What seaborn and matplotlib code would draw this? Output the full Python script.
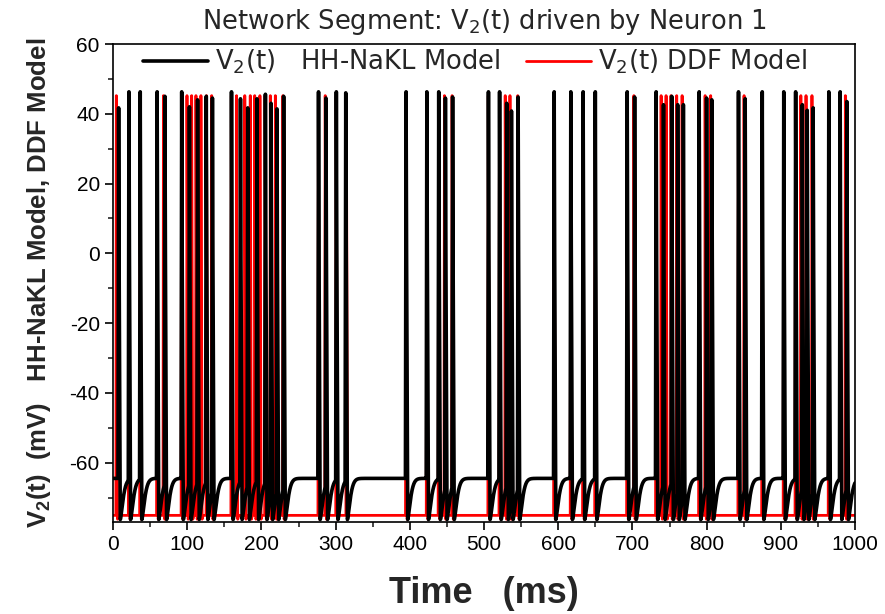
import numpy as np
import pandas as pd
import matplotlib
matplotlib.use("Agg")
import matplotlib.pyplot as plt
import seaborn as sns
from matplotlib.ticker import MultipleLocator

# ---------------- data ----------------
# spike times (ms) of the HH-NaKL model trace (black)
hh_spike_times = [7.6, 21.5, 36.7, 59.5, 70.0, 92.6, 103.0, 114.0, 125.7, 134.0,
                  159.7, 171.8, 181.6, 194.0, 205.4, 213.0, 221.0, 230.0,
                  277.0, 287.0, 301.0, 313.7, 395.0, 423.0, 439.0, 448.0, 457.7,
                  506.0, 521.0, 530.6, 537.0, 546.0, 594.6, 617.0, 633.6, 650.0,
                  693.0, 703.0, 732.0, 741.9, 753.0, 761.0, 768.7, 790.0, 800.0,
                  807.0, 843.0, 852.0, 875.0, 904.0, 920.0, 929.0, 935.6, 943.6,
                  964.7, 980.0, 989.0]
# spike peak voltages (mV) of the black trace
hh_spike_peaks = [41.7, 46.3, 46.3, 46.3, 45.0, 46.3, 42.0, 44.0, 45.0, 44.5,
                  46.3, 44.3, 41.7, 44.3, 45.6, 43.0, 41.4, 45.0,
                  46.3, 44.5, 46.3, 46.0, 46.3, 46.3, 46.3, 44.5, 44.8,
                  46.3, 46.3, 43.0, 40.8, 44.8, 46.3, 46.3, 46.3, 46.3,
                  46.3, 44.8, 46.3, 42.6, 45.0, 42.6, 42.6, 46.3, 44.5,
                  44.0, 46.3, 44.3, 46.3, 46.3, 46.3, 42.6, 41.0, 41.7,
                  46.3, 46.3, 43.5]
# spike times (ms) of the DDF model trace (red)
ddf_spike_times = [4.5, 21.3, 36.5, 59.3, 68.0, 92.4, 99.7, 106.0, 111.8, 118.5,
                   126.0, 133.0, 159.5, 166.5, 177.6, 185.0, 191.0, 198.0, 205.0,
                   212.0, 218.8, 229.0, 276.8, 286.0, 300.8, 314.5, 394.8, 422.8,
                   438.8, 446.7, 457.0, 505.8, 520.8, 528.6, 535.0, 545.5, 594.4,
                   616.8, 633.4, 649.8, 692.8, 702.0, 731.8, 738.7, 745.4, 752.0,
                   759.7, 767.0, 789.8, 798.0, 805.5, 842.8, 850.5, 874.8, 903.8,
                   919.8, 927.0, 934.0, 942.0, 964.5, 987.0]
ddf_spike_peak = 45.2

# resting / plateau levels (mV)
hh_plateau = -64.5
hh_trough = -76.3
ddf_rest = -75.1
ddf_trough = -76.2

# ---------------- build traces ----------------
dt = 0.05
t = np.arange(0.0, 1000.0 + dt / 2, dt)


def hh_trace(times, peaks):
    v = np.full_like(t, hh_plateau)
    up, down, tau, p = 0.9, 2.2, 5.0, 1.4

    def recov(x, t0):
        return hh_plateau - (hh_plateau - hh_trough) * np.exp(-np.clip((x - t0) / tau, 0, None) ** p)

    for i, ts in enumerate(times):
        t0 = ts + down
        nxt = times[i + 1] if i + 1 < len(times) else np.inf
        m = (t >= t0) & (t < nxt - up)
        v[m] = recov(t[m], t0)
    for i, ts in enumerate(times):
        pk = peaks[i]
        if i == 0:
            vstart = hh_plateau
        else:
            vstart = recov(ts - up, times[i - 1] + down)
        m = (t >= ts - up) & (t < ts)
        f = (t[m] - (ts - up)) / up
        v[m] = vstart + (pk - vstart) * f
        m = (t >= ts) & (t < ts + down)
        f = (t[m] - ts) / down
        v[m] = pk + (hh_trough - pk) * f ** 0.8
    return v


def ddf_trace(times, peak):
    v = np.full_like(t, ddf_rest)
    for ts in times:
        m = (t >= ts - 0.6) & (t < ts)
        f = (t[m] - (ts - 0.6)) / 0.6
        v[m] = ddf_rest + (peak - ddf_rest) * f
        m = (t >= ts) & (t < ts + 1.6)
        f = (t[m] - ts) / 1.6
        v[m] = peak + (ddf_trough - peak) * f
        m = (t >= ts + 1.6) & (t < ts + 2.6)
        f = (t[m] - (ts + 1.6)) / 1.0
        v[m] = ddf_trough + (ddf_rest - ddf_trough) * f
    return v


df = pd.DataFrame({"t": t,
                   "hh": hh_trace(hh_spike_times, hh_spike_peaks),
                   "ddf": ddf_trace(ddf_spike_times, ddf_spike_peak)})

# ---------------- style ----------------
sns.set_style("ticks")
base = ["Liberation Sans", "DejaVu Sans"]
wide = ["DejaVu Sans"]
plt.rcParams["font.family"] = base
plt.rcParams["mathtext.default"] = "regular"
plt.rcParams["axes.linewidth"] = 1.2
plt.rcParams["axes.unicode_minus"] = False

fig = plt.figure(figsize=(8.85, 6.14), dpi=100)
ax = fig.add_axes([113 / 885, 1 - 522 / 614, (855 - 113) / 885, (522 - 44) / 614])

sns.lineplot(data=df, x="t", y="ddf", color="#ff0000", lw=2.0, ax=ax,
             estimator=None, sort=False, label="V$_2$(t) DDF Model")
sns.lineplot(data=df, x="t", y="hh", color="black", lw=2.6, ax=ax,
             estimator=None, sort=False, label="V$_2$(t)   HH-NaKL Model")

ax.set_xlim(0, 1000)
ax.set_ylim(-77, 60)
ax.xaxis.set_major_locator(MultipleLocator(100))
ax.xaxis.set_minor_locator(MultipleLocator(50))
ax.yaxis.set_major_locator(MultipleLocator(20))
ax.yaxis.set_minor_locator(MultipleLocator(10))
ax.tick_params(axis="both", which="major", direction="out", length=6, width=1.2,
               labelsize=15, colors="black")
ax.tick_params(axis="both", which="minor", direction="out", length=3.5, width=1.2)
for s in ax.spines.values():
    s.set_color("black")
    s.set_visible(True)

ax.set_xlabel("Time   (ms)", fontsize=26, fontweight="bold", labelpad=16)
ax.set_ylabel("V$_2$(t)  (mV)   HH-NaKL Model, DDF Model", fontsize=18.5,
              fontweight="bold", labelpad=12)
ax.set_title("Network Segment: V$_2$(t) driven by Neuron 1", fontsize=18.5,
             pad=11, family=wide)

handles, labels = ax.get_legend_handles_labels()
ax.legend(handles[::-1], labels[::-1], ncol=2, loc="upper center",
          bbox_to_anchor=(0.488, 1.025), frameon=False,
          prop={"family": wide, "size": 18.6},
          handlelength=2.5, columnspacing=1.0, handletextpad=0.27,
          borderaxespad=0.2)

fig.savefig("out.png", dpi=100)
